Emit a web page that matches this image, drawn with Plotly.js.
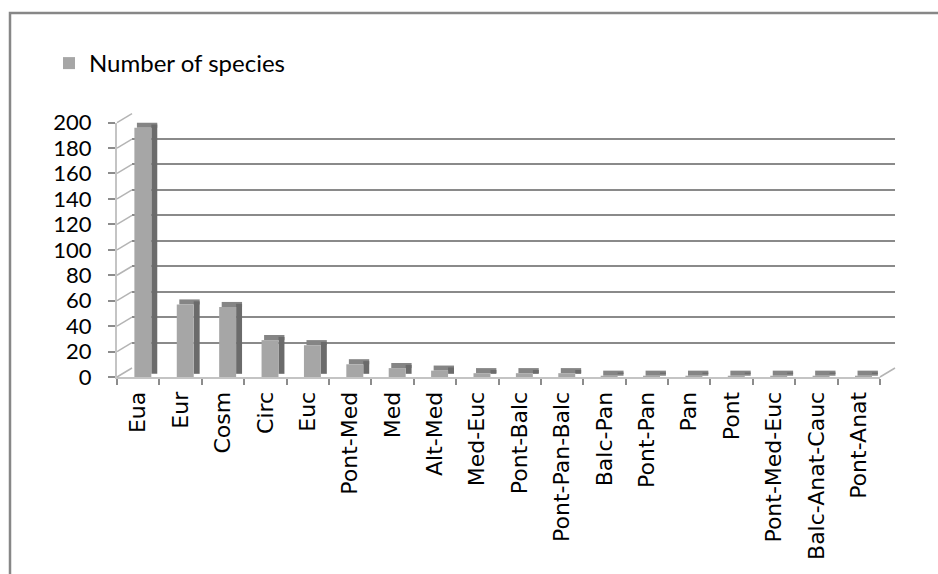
<!DOCTYPE html>
<html>
<head>
<meta charset="utf-8">
<script src="https://cdn.plot.ly/plotly-3.0.1.min.js"></script>
<style>html,body{margin:0;padding:0;background:#fff;}#chart{width:938px;height:574px;}</style>
</head>
<body>
<div id="chart"></div>
<script>
// ---- data ----
const categories = ['Eua','Eur','Cosm','Circ','Euc','Pont-Med','Med','Alt-Med','Med-Euc','Pont-Balc','Pont-Pan-Balc','Balc-Pan','Pont-Pan','Pan','Pont','Pont-Med-Euc','Balc-Anat-Cauc','Pont-Anat'];
const species = [196, 57, 55, 29, 25, 10, 7, 5, 3, 3, 3, 1, 1, 1, 1, 1, 1, 1];
const yTicks = [0, 20, 40, 60, 80, 100, 120, 140, 160, 180, 200];
const seriesName = 'Number of species';

// ---- geometry (pixels of the 938x574 page) ----
const W = 938, H = 574;
const fx = p => p / W;
const fy = p => 1 - p / H;
const front = {l: 117, r: 880, b: 377, t: 122.6};
const back  = {l: 132, r: 895, b: 368, t: 113};
const depthX = (back.l - front.l) / (front.r - front.l);
const depthY = (front.b - back.b) / (front.b - front.t);
const yMax = 200;

const frontColor = '#a6a6a6', sideColor = '#6b6b6b', topColor = '#858585';
const topDepth = 4, sideLift = 2.5;

const traces = [
  {type: 'scatter', x: [], y: [], xaxis: 'x', yaxis: 'y', showlegend: false, hoverinfo: 'skip'},
  {type: 'bar', x: categories, y: categories.map(() => topDepth), base: species,
   xaxis: 'x2', yaxis: 'y2', offset: -0.03, width: 0.48,
   marker: {color: topColor, line: {width: 0}}, showlegend: false, hoverinfo: 'skip'},
  {type: 'bar', x: categories, y: species, base: sideLift,
   xaxis: 'x2', yaxis: 'y2', offset: 0.31, width: 0.14,
   marker: {color: sideColor, line: {width: 0}}, showlegend: false, hoverinfo: 'skip'},
  {type: 'bar', x: categories, y: species, name: seriesName,
   xaxis: 'x2', yaxis: 'y2', offset: -0.09, width: 0.40,
   marker: {color: frontColor, line: {width: 0}}, showlegend: true}
];

const shapes = [];
shapes.push({type: 'rect', xref: 'paper', yref: 'paper', x0: fx(10), y0: -0.05, x1: 1.05, y1: fy(13),
  line: {color: '#878787', width: 2.5}, fillcolor: 'rgba(0,0,0,0)'});
yTicks.forEach(v => {
  shapes.push({type: 'line', xref: 'x2 domain', yref: 'y2 domain',
    x0: 0, y0: v / yMax, x1: depthX, y1: v / yMax + depthY,
    line: {color: '#b4b4b4', width: 1.5}});
});
shapes.push({type: 'line', xref: 'x2 domain', yref: 'y2 domain',
  x0: 1, y0: 0, x1: 1 + depthX, y1: depthY, line: {color: '#b4b4b4', width: 1.5}});

const layout = {
  width: W, height: H,
  margin: {l: 0, r: 0, t: 0, b: 0},
  paper_bgcolor: '#ffffff',
  plot_bgcolor: 'rgba(0,0,0,0)',
  barmode: 'overlay',
  showlegend: true,
  legend: {x: fx(49), y: fy(41), xanchor: 'left', yanchor: 'top',
    font: {family: 'Lato, sans-serif', size: 24, color: '#000'}, bgcolor: 'rgba(0,0,0,0)'},
  xaxis: {domain: [fx(back.l), fx(back.r)], range: [0, 1], anchor: 'y',
    showgrid: false, zeroline: false, showline: false, showticklabels: false, ticks: ''},
  yaxis: {domain: [fy(back.b), fy(back.t)], range: [0, yMax], anchor: 'x',
    tickvals: yTicks, showgrid: true, gridcolor: '#8a8a8a', gridwidth: 2,
    zeroline: false, showline: false, showticklabels: false, ticks: ''},
  xaxis2: {domain: [fx(front.l), fx(front.r)], anchor: 'y2', type: 'category',
    range: [-0.5, categories.length - 0.5],
    tickson: 'boundaries', ticks: 'outside', ticklen: 6, tickwidth: 2, tickcolor: '#8c8c8c',
    showline: true, linecolor: '#c4c4c4', linewidth: 2, showgrid: false, zeroline: false,
    ticklabelstandoff: 4,
    tickangle: -90, tickfont: {family: 'DejaVu Sans, sans-serif', size: 22, color: '#000'}},
  yaxis2: {domain: [fy(front.b), fy(front.t)], anchor: 'x2', range: [0, yMax],
    tickvals: yTicks, ticks: 'outside', ticklen: 7, tickwidth: 2, tickcolor: '#8c8c8c',
    showline: true, linecolor: '#c4c4c4', linewidth: 2, showgrid: false, zeroline: false,
    ticklabelstandoff: 12,
    tickfont: {family: 'Lato, sans-serif', size: 22, color: '#000'}},
  shapes: shapes
};

Plotly.newPlot('chart', traces, layout, {displayModeBar: false, staticPlot: true});
</script>
</body>
</html>
